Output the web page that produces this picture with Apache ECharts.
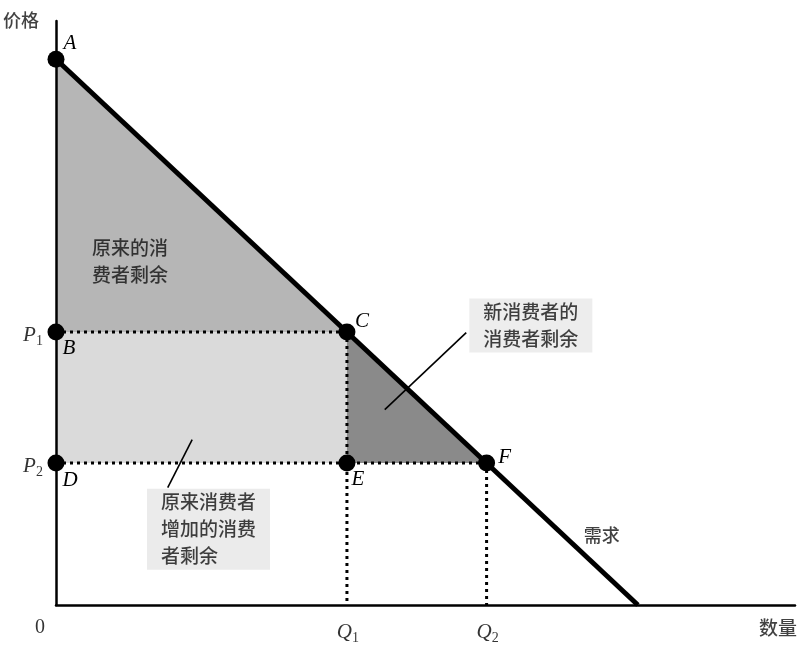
<!DOCTYPE html>
<html><head><meta charset="utf-8">
<script src="https://cdn.jsdelivr.net/npm/echarts@6/dist/echarts.min.js"></script>
<style>html,body{margin:0;padding:0;background:#fff}#c{width:804px;height:650px}</style>
</head><body><div id="c"></div>
<script>
// ---- data ----
const pointNames = ['A', 'B', 'C', 'D', 'E', 'F'];
const pointQ = [0, 0, 5, 0, 5, 7.4];
const pointP = [10, 5, 5, 2.6, 2.6, 2.6];
const demandQ = [0, 10];
const demandP = [10, 0];
const priceTickLabels = ['P1', 'P2'];
const priceTickValues = [5, 2.6];
const qtyTickLabels = ['Q1', 'Q2'];
const qtyTickValues = [5, 7.4];
const origSurplus = ['A', 'B', 'C'];
const addedSurplus = ['B', 'C', 'E', 'D'];
const newSurplus = ['C', 'E', 'F'];

// ---- helpers ----
const pt = n => { const i = pointNames.indexOf(n); return [pointQ[i], pointP[i]]; };
const serif = 'Liberation Serif, Times New Roman, serif';
const cjk = 'Noto Sans CJK SC';

function poly(names, color) {
  return {
    type: 'custom', coordinateSystem: 'cartesian2d', silent: true, z: 1, clip: false,
    data: [pt(names[0])],
    renderItem: (params, api) => ({
      type: 'polygon',
      shape: { points: names.map(n => api.coord(pt(n))) },
      style: { fill: color }
    })
  };
}
const dotted = { color: '#000', width: 3, type: [3, 4], cap: 'butt' };
function seg(a, b) {
  return { type: 'line', data: [a, b], symbol: 'none', silent: true, z: 2, lineStyle: dotted, clip: false };
}
const subRich = {
  i: { fontFamily: serif, fontStyle: 'italic', fontSize: 21, color: '#000' },
  s: { fontFamily: serif, fontSize: 14, color: '#000', padding: [12, 0, 0, 0] }
};
const subFmt = s => '{i|' + s[0] + '}{s|' + s.slice(1) + '}';

const pointOffsets = { A: [14, -16], B: [13, 16], C: [15, -11], D: [14, 17], E: [11, 16], F: [18, -6] };

const cnStyle = { fontFamily: cjk, fontSize: 19, fontWeight: 500, color: '#111', lineHeight: 27 };

const chart = echarts.init(document.getElementById('c'), null, { renderer: 'canvas' });
chart.setOption({
  animation: false,
  backgroundColor: '#fff',
  grid: { left: 56, top: 21, right: 9, bottom: 45, containLabel: false, outerBoundsMode: 'none' },
  xAxis: {
    type: 'value', min: 0, max: 12.7, z: 10,
    axisLine: { show: true, onZero: false, lineStyle: { color: '#000', width: 2.5 } },
    axisTick: { show: false }, axisLabel: { show: false }, splitLine: { show: false }
  },
  yAxis: {
    type: 'value', min: 0, max: 10.7, z: 10,
    axisLine: { show: true, onZero: false, lineStyle: { color: '#000', width: 2.5 } },
    axisTick: { show: false }, axisLabel: { show: false }, splitLine: { show: false }
  },
  series: [
    poly(origSurplus, '#b6b6b6'),
    poly(addedSurplus, '#dadada'),
    poly(newSurplus, '#8a8a8a'),
    seg(pt('B'), pt('C')),
    seg(pt('D'), pt('F')),
    seg(pt('C'), [pt('C')[0], 0]),
    seg(pt('F'), [pt('F')[0], 0]),
    // leader lines
    { type: 'line', data: [[7.05, 4.99], [5.65, 3.58]], symbol: 'none', silent: true, z: 3,
      lineStyle: { color: '#000', width: 1.6 } },
    { type: 'line', data: [[2.34, 3.03], [1.92, 2.15]], symbol: 'none', silent: true, z: 3,
      lineStyle: { color: '#000', width: 1.6 } },
    // demand
    { type: 'line', data: demandQ.map((q, i) => [q, demandP[i]]), symbol: 'none', silent: true, z: 4,
      lineStyle: { color: '#000', width: 5 } },
    // points
    { type: 'scatter', z: 6, symbol: 'circle', symbolSize: 17, silent: true, clip: false,
      itemStyle: { color: '#000', opacity: 1, borderWidth: 0 },
      data: pointNames.map((n, i) => ({
        value: [pointQ[i], pointP[i]],
        label: { show: true, formatter: n, position: 'inside', offset: pointOffsets[n],
          fontFamily: serif, fontStyle: 'italic', fontSize: 21, color: '#000' }
      }))
    },
    // tick labels & texts
    { type: 'scatter', z: 7, symbolSize: 0, silent: true, clip: false,
      data: [
        ...priceTickLabels.map((t, i) => ({ value: [0, priceTickValues[i]],
          label: { show: true, position: 'inside', offset: [-23, 3], formatter: subFmt(t), rich: subRich } })),
        ...qtyTickLabels.map((t, i) => ({ value: [qtyTickValues[i], 0],
          label: { show: true, position: 'inside', offset: [1, 27], formatter: subFmt(t), rich: subRich } })),
        { value: [0, 0], label: { show: true, position: 'inside', offset: [-16, 23], formatter: '0',
          fontFamily: serif, fontSize: 20, color: '#000' } },
        { value: [0, 10.7], label: { show: true, position: 'inside', offset: [-35, -1], formatter: '价格',
          fontFamily: cjk, fontSize: 18, fontWeight: 500, color: '#111' } },
        { value: [12.7, 0], label: { show: true, position: 'inside', offset: [-17, 23], formatter: '数量',
          fontFamily: cjk, fontSize: 19, fontWeight: 500, color: '#111' } },
        { value: [9.38, 1.28], label: { show: true, position: 'inside', formatter: '需求',
          fontFamily: cjk, fontSize: 18, fontWeight: 500, color: '#111' } },
        { value: [1.27, 6.29], label: Object.assign({ show: true, position: 'inside', formatter: '原来的消\n费者剩余' }, cnStyle) },
        { value: [8.16, 5.12], label: Object.assign({ show: true, position: 'inside', formatter: '新消费者的\n消费者剩余',
          backgroundColor: '#e8e8e8', padding: [0, 14, 0, 14] }, cnStyle) },
        { value: [2.44, 1.39], label: Object.assign({ show: true, position: 'inside', formatter: '原来消费者\n增加的消费\n者剩余',
          align: 'left', offset: [-51, 0], backgroundColor: '#e6e6e6', padding: [0, 14, 0, 14] }, cnStyle) }
      ]
    }
  ]
});
</script></body></html>
